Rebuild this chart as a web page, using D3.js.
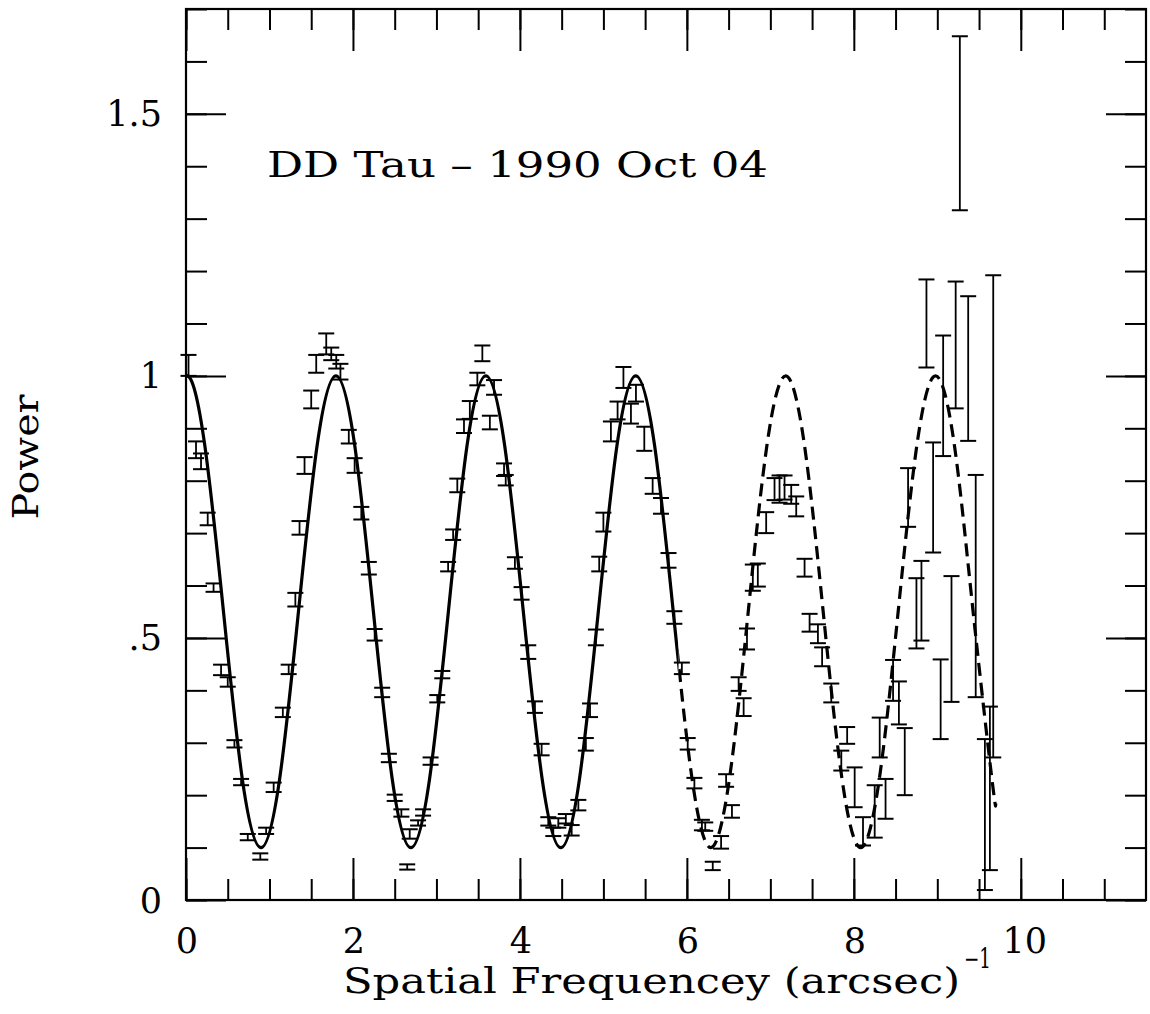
<!DOCTYPE html>
<html>
<head>
<meta charset="utf-8">
<script src="https://cdn.jsdelivr.net/npm/d3@7/dist/d3.min.js"></script>
<style>
  html, body { margin: 0; padding: 0; background: #fff; }
  svg { display: block; }
  text { font-family: "DejaVu Serif", "Liberation Serif", serif; fill: #000; }
</style>
</head>
<body>
<svg id="chart" width="1150" height="1014"></svg>
<script>
// Measured power spectrum points: spatial frequency, power, half-length of error bar
const freq = [0.03, 0.12, 0.18, 0.26, 0.33, 0.42, 0.50, 0.58, 0.66, 0.74, 0.89, 0.96, 1.05, 1.16, 1.23, 1.31, 1.36, 1.42, 1.50, 1.56,
  1.68, 1.74, 1.80, 1.85, 1.95, 2.02, 2.10, 2.19, 2.26, 2.35, 2.43, 2.50, 2.58, 2.65, 2.68, 2.78, 2.84, 2.93, 3.01, 3.07,
  3.14, 3.20, 3.25, 3.33, 3.40, 3.49, 3.55, 3.64, 3.69, 3.81, 3.83, 3.94, 4.02, 4.10, 4.18, 4.26, 4.34, 4.40, 4.46, 4.55,
  4.62, 4.70, 4.79, 4.84, 4.91, 4.95, 5.00, 5.09, 5.17, 5.24, 5.33, 5.39, 5.49, 5.59, 5.69, 5.78, 5.85, 5.94, 6.01, 6.09,
  6.18, 6.22, 6.31, 6.41, 6.47, 6.54, 6.62, 6.68, 6.72, 6.79, 6.85, 6.95, 7.05, 7.11, 7.17, 7.25, 7.31, 7.41, 7.47, 7.57,
  7.62, 7.73, 7.85, 7.92, 8.01, 8.11, 8.25, 8.31, 8.38, 8.47, 8.54, 8.61, 8.65, 8.75, 8.81, 8.87, 8.95, 9.04, 9.07, 9.17,
  9.22, 9.27, 9.37, 9.46, 9.57, 9.63, 9.67];
const power = [1.020, 0.859, 0.837, 0.727, 0.596, 0.439, 0.416, 0.298, 0.225, 0.120, 0.083, 0.132, 0.215, 0.358, 0.440, 0.573, 0.710, 0.829, 0.955, 1.023,
  1.061, 1.042, 1.027, 1.008, 0.884, 0.829, 0.738, 0.633, 0.506, 0.396, 0.271, 0.195, 0.166, 0.063, 0.126, 0.147, 0.167, 0.265, 0.384, 0.430,
  0.636, 0.697, 0.791, 0.904, 0.935, 0.994, 1.043, 0.911, 0.978, 0.821, 0.801, 0.643, 0.585, 0.473, 0.368, 0.287, 0.150, 0.130, 0.147, 0.155,
  0.133, 0.181, 0.297, 0.362, 0.501, 0.641, 0.721, 0.894, 0.934, 0.997, 0.928, 0.967, 0.880, 0.790, 0.752, 0.648, 0.539, 0.442, 0.298, 0.223,
  0.143, 0.140, 0.065, 0.110, 0.228, 0.169, 0.412, 0.368, 0.498, 0.615, 0.620, 0.720, 0.784, 0.784, 0.787, 0.774, 0.751, 0.634, 0.529, 0.508,
  0.464, 0.395, 0.266, 0.314, 0.215, 0.131, 0.169, 0.310, 0.193, 0.419, 0.376, 0.264, 0.768, 0.547, 0.571, 1.100, 0.768, 0.383, 0.962, 0.498,
  1.059, 1.482, 1.014, 0.599, 0.163, 0.213, 0.732];
const powerErr = [0.020, 0.016, 0.015, 0.012, 0.008, 0.010, 0.009, 0.007, 0.006, 0.006, 0.006, 0.006, 0.009, 0.009, 0.009, 0.013, 0.013, 0.016, 0.017, 0.017,
  0.020, 0.012, 0.013, 0.015, 0.013, 0.014, 0.012, 0.012, 0.011, 0.009, 0.008, 0.006, 0.007, 0.005, 0.009, 0.005, 0.006, 0.007, 0.007, 0.007,
  0.009, 0.010, 0.013, 0.013, 0.017, 0.012, 0.015, 0.013, 0.014, 0.012, 0.010, 0.011, 0.012, 0.013, 0.011, 0.011, 0.008, 0.008, 0.009, 0.009,
  0.010, 0.010, 0.012, 0.013, 0.015, 0.014, 0.018, 0.019, 0.017, 0.020, 0.019, 0.016, 0.023, 0.015, 0.015, 0.014, 0.012, 0.011, 0.011, 0.010,
  0.010, 0.008, 0.008, 0.012, 0.012, 0.012, 0.013, 0.017, 0.020, 0.025, 0.022, 0.020, 0.021, 0.026, 0.023, 0.018, 0.019, 0.017, 0.017, 0.018,
  0.018, 0.018, 0.019, 0.016, 0.038, 0.027, 0.050, 0.038, 0.038, 0.039, 0.041, 0.064, 0.056, 0.067, 0.076, 0.084, 0.105, 0.076, 0.115, 0.120,
  0.121, 0.166, 0.138, 0.212, 0.144, 0.156, 0.460];

// Binary-star model curve, sampled at eighth-period nodes (solid where fitted, dashed beyond)
const fitFreq = [-0.2245, 0, 0.2245, 0.449, 0.6735, 0.898, 1.1225, 1.347, 1.5715, 1.796, 2.0205, 2.245, 2.4695, 2.694, 2.9185, 3.143,
  3.3675, 3.592, 3.8165, 4.041, 4.2655, 4.49, 4.7145, 4.939, 5.1635, 5.388, 5.6125, 5.837, 6.0615, 6.286, 6.5105, 6.735,
  6.9595, 7.184, 7.4085, 7.633, 7.8575, 8.082, 8.3065, 8.531, 8.7555, 8.98, 9.2045, 9.429, 9.6535, 9.70];
const fitPower = [0.868, 1.0, 0.868, 0.55, 0.232, 0.1, 0.232, 0.55, 0.868, 1.0, 0.868, 0.55, 0.232, 0.1, 0.232, 0.55,
  0.868, 1.0, 0.868, 0.55, 0.232, 0.1, 0.232, 0.55, 0.868, 1.0, 0.868, 0.55, 0.232, 0.1, 0.232, 0.55,
  0.868, 1.0, 0.868, 0.55, 0.232, 0.1, 0.232, 0.55, 0.868, 1.0, 0.868, 0.55, 0.232, 0.184];
const dashFrom = 5.9;

// Axis ticks and labels
const xMax = 11.5, yMax = 1.7;
const xMinorTicks = d3.range(0, 11.01, 0.5);
const xMajorTicks = [0, 2, 4, 6, 8, 10];
const xTickLabels = ["0", "2", "4", "6", "8", "10"];
const yMinorTicks = d3.range(0, 1.701, 0.1);
const yMajorTicks = [0, 0.5, 1, 1.5];
const yTickLabels = ["0", ".5", "1", "1.5"];
const titleText = "DD Tau  \u2013  1990 Oct 04";
const xLabelText = "Spatial Frequencey (arcsec)";
const xLabelExp = "\u22121";
const yLabelText = "Power";

const svg = d3.select("#chart");
const L = 186, R = 1146, T = 9, B = 900;
const x = d3.scaleLinear().domain([0, xMax]).range([L, R]);
const y = d3.scaleLinear().domain([0, yMax]).range([B, T]);

svg.append("rect").attr("width", 1150).attr("height", 1014).attr("fill", "#fff");

const defs = svg.append("defs");
defs.append("clipPath").attr("id", "solidClip").append("rect")
  .attr("x", x(0)).attr("y", T).attr("width", x(dashFrom) - x(0)).attr("height", B - T);
defs.append("clipPath").attr("id", "dashClip").append("rect")
  .attr("x", x(dashFrom)).attr("y", T).attr("width", x(xMax) - x(dashFrom)).attr("height", B - T);

// Ticks on all four sides, pointing inward
function ticks(axisFn, scale, values, size, transform) {
  const g = svg.append("g").attr("transform", transform)
    .call(axisFn(scale).tickValues(values).tickSize(-size).tickFormat(""));
  g.select(".domain").remove();
  g.selectAll(".tick line").attr("stroke", "#000").attr("stroke-width", 2);
}
ticks(d3.axisBottom, x, xMinorTicks, 21, `translate(0,${B})`);
ticks(d3.axisBottom, x, xMajorTicks, 42, `translate(0,${B})`);
ticks(d3.axisTop, x, xMinorTicks, 21, `translate(0,${T})`);
ticks(d3.axisTop, x, xMajorTicks, 42, `translate(0,${T})`);
ticks(d3.axisLeft, y, yMinorTicks, 21, `translate(${L},0)`);
ticks(d3.axisLeft, y, yMajorTicks, 40, `translate(${L},0)`);
ticks(d3.axisRight, y, yMinorTicks, 21, `translate(${R},0)`);
ticks(d3.axisRight, y, yMajorTicks, 40, `translate(${R},0)`);

// Frame
svg.append("rect").attr("x", L).attr("y", T).attr("width", R - L).attr("height", B - T)
  .attr("fill", "none").attr("stroke", "#000").attr("stroke-width", 2.2);

// Model curve
const fit = fitFreq.map((f, i) => [f, fitPower[i]]);
const line = d3.line().x(d => x(d[0])).y(d => y(d[1])).curve(d3.curveNatural);
svg.append("path").attr("d", line(fit)).attr("clip-path", "url(#solidClip)")
  .attr("fill", "none").attr("stroke", "#000").attr("stroke-width", 3.2);
svg.append("path").attr("d", line(fit)).attr("clip-path", "url(#dashClip)")
  .attr("fill", "none").attr("stroke", "#000").attr("stroke-width", 3.2)
  .attr("stroke-dasharray", "13,7");

// Error bars
const cap = 8;
const bars = svg.append("g").attr("stroke", "#000").attr("fill", "none");
freq.forEach((f, i) => {
  const cx = x(f), y0 = y(power[i] - powerErr[i]), y1 = y(power[i] + powerErr[i]);
  const g = bars.append("g");
  g.append("line").attr("x1", cx).attr("x2", cx).attr("y1", y0).attr("y2", y1).attr("stroke-width", 1.8);
  g.append("line").attr("x1", cx - cap).attr("x2", cx + cap).attr("y1", y0).attr("y2", y0).attr("stroke-width", 2);
  g.append("line").attr("x1", cx - cap).attr("x2", cx + cap).attr("y1", y1).attr("y2", y1).attr("stroke-width", 2);
});

// Tick labels
svg.append("g").selectAll("text").data(xMajorTicks).join("text")
  .attr("x", d => x(d) + (d === 10 ? 4 : 1)).attr("y", 953).attr("text-anchor", "middle")
  .attr("font-size", 35).text((d, i) => xTickLabels[i]);
svg.append("g").selectAll("text").data(yMajorTicks).join("text")
  .attr("x", 162).attr("y", d => y(d) + 12.5).attr("text-anchor", "end")
  .attr("font-size", 35).text((d, i) => yTickLabels[i]);

// Title and axis labels
svg.append("text").attr("x", 267).attr("y", 177).attr("font-size", 36)
  .attr("textLength", 501).attr("lengthAdjust", "spacingAndGlyphs").text(titleText);
svg.append("text").attr("x", 343).attr("y", 993).attr("font-size", 36)
  .attr("textLength", 617).attr("lengthAdjust", "spacingAndGlyphs").text(xLabelText);
svg.append("text").attr("x", 964).attr("y", 968).attr("font-size", 27)
  .attr("textLength", 27).attr("lengthAdjust", "spacingAndGlyphs").text(xLabelExp);
svg.append("text").attr("transform", "translate(38,457) rotate(-90)")
  .attr("text-anchor", "middle").attr("font-size", 36)
  .attr("textLength", 125).attr("lengthAdjust", "spacingAndGlyphs").text(yLabelText);
</script>
</body>
</html>
